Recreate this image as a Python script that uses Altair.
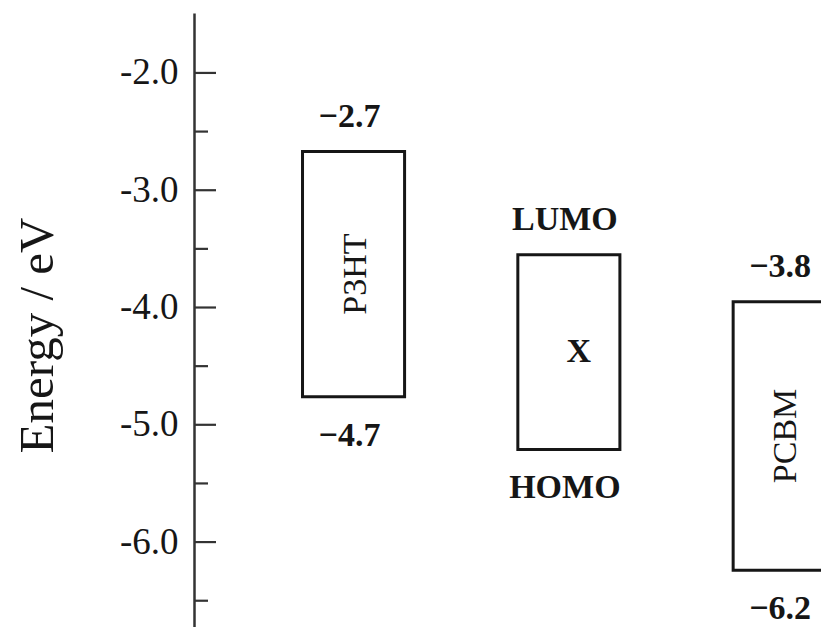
import altair as alt
import pandas as pd

# ---- data ----
materials = ["P3HT", "X", "PCBM"]
lumo = [-2.67, -3.55, -3.95]          # top edge of each box (eV)
homo = [-4.76, -5.21, -6.24]          # bottom edge of each box (eV)
top_labels = ["\u22122.7", "LUMO", "\u22123.8"]
bottom_labels = ["\u22124.7", "HOMO", "\u22126.2"]
major_ticks = [-2.0, -3.0, -4.0, -5.0, -6.0]
minor_ticks = [-2.5, -3.5, -4.5, -5.5, -6.5]

boxes = pd.DataFrame({
    "material": materials,
    "slot": list(range(len(materials))),
    "lumo": lumo,
    "homo": homo,
    "top": top_labels,
    "bottom": bottom_labels,
})
boxes["mid"] = (boxes["lumo"] + boxes["homo"]) / 2
major = pd.DataFrame({"v": major_ticks})
minor = pd.DataFrame({"v": minor_ticks})

SERIF = "Liberation Serif"
INK = "#161616"
HALF = 0.237

yscale = alt.Scale(domain=[-6.724, -1.489], nice=False, zero=False)
xscale = alt.Scale(domain=[-0.741, 2.171], nice=False, zero=False)

yaxis = alt.Axis(
    title="Energy / eV",
    values=major_ticks,
    labelExpr="'-' + format(-datum.value, '.1f')",
    ticks=False,
    tickSize=0,
    grid=False,
    domainColor="#333333",
    domainWidth=2.5,
    labelFont=SERIF,
    labelFontSize=37,
    labelColor=INK,
    labelPadding=16,
    titleFont=SERIF,
    titleFontSize=49,
    titleFontWeight="normal",
    titleColor=INK,
    titleAngle=270,
    titleAlign="center",
    titleBaseline="alphabetic",
    titleX=-142,
    titleY=322,
)


def Y(field):
    return alt.Y(field, scale=yscale, axis=yaxis)


def X(field):
    return alt.X(field, scale=xscale, axis=None)


base = alt.Chart(boxes).transform_calculate(
    x0=f"datum.slot - {HALF}", x1=f"datum.slot + {HALF}"
)

rects = base.mark_rect(fill="white", stroke=INK, strokeWidth=3).encode(
    x=X("x0:Q"), x2="x1:Q", y=Y("lumo:Q"), y2="homo:Q",
)

top_text = base.mark_text(
    font=SERIF, fontSize=34, fontWeight="bold", color=INK,
    baseline="middle", align="center", dy=-35, dx=-4,
).encode(x=X("slot:Q"), y=Y("lumo:Q"), text="top:N")

bottom_text = base.mark_text(
    font=SERIF, fontSize=34, fontWeight="bold", color=INK,
    baseline="middle", align="center", dy=39, dx=-4,
).encode(x=X("slot:Q"), y=Y("homo:Q"), text="bottom:N")

name_rot = base.transform_filter("datum.material != 'X'").mark_text(
    font=SERIF, fontSize=34, color=INK, angle=270,
    baseline="middle", align="center", dy=2,
).encode(x=X("slot:Q"), y=Y("mid:Q"), text="material:N")

name_x = base.transform_filter("datum.material == 'X'").mark_text(
    font=SERIF, fontSize=34, fontWeight="bold", color=INK,
    baseline="middle", align="center", dx=10,
).encode(x=X("slot:Q"), y=Y("mid:Q"), text="material:N")

major_rules = alt.Chart(major).mark_rule(color="#333333", strokeWidth=2.2).encode(
    y=Y("v:Q"), x=alt.value(0), x2=alt.value(22),
)

minor_rules = alt.Chart(minor).mark_rule(color="#333333", strokeWidth=2.2).encode(
    y=Y("v:Q"), x=alt.value(0), x2=alt.value(14),
)

chart = alt.layer(
    rects, major_rules, minor_rules, top_text, bottom_text, name_rot, name_x
).properties(
    width=627,
    height=614,
    autosize=alt.AutoSizeParams(type="none"),
    padding={"left": 186, "top": 5, "right": 0, "bottom": 0},
    background="white",
).configure_view(stroke=None)

chart.save("out.html", embed_options={"renderer": "svg", "actions": False})
